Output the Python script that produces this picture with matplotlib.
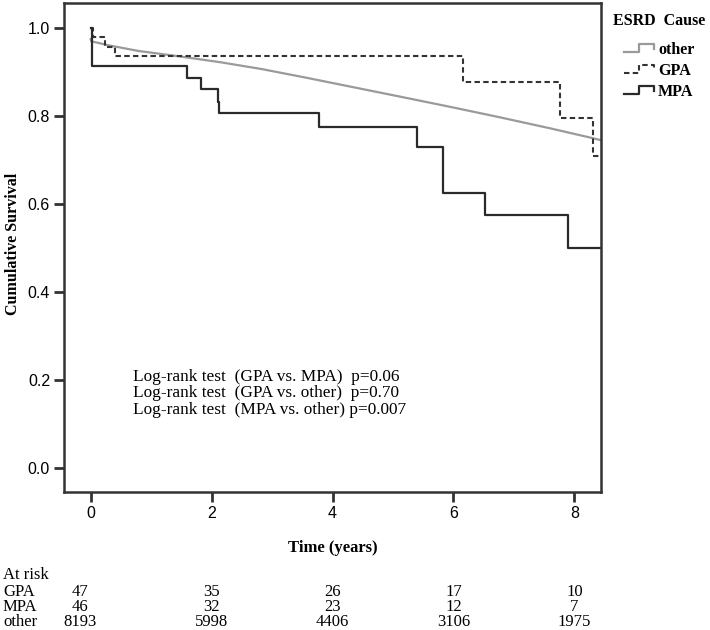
import numpy as np
import matplotlib
matplotlib.use("Agg")
import matplotlib.pyplot as plt
import matplotlib.transforms as mtrans
from matplotlib.lines import Line2D
from matplotlib.legend_handler import HandlerBase

# ---------------- data ----------------
other_t = [0.0, 0.01, 0.29, 0.79, 1.50, 2.16, 2.82, 3.57, 4.29, 5.12, 5.94, 6.77, 7.60, 8.26, 8.44]
other_s = [0.975, 0.970, 0.961, 0.948, 0.935, 0.922, 0.907, 0.887, 0.867, 0.844, 0.821, 0.797, 0.772, 0.751, 0.745]

gpa_t = [0.0, 0.04, 0.23, 0.40, 6.15, 7.76, 8.30, 8.44]
gpa_s = [1.0, 0.979, 0.957, 0.936, 0.877, 0.796, 0.709, 0.709]

mpa_t = [0.0, 0.03, 1.59, 1.83, 2.10, 2.12, 3.77, 5.40, 5.82, 6.53, 7.90, 8.44]
mpa_s = [1.0, 0.913, 0.887, 0.861, 0.832, 0.806, 0.776, 0.730, 0.626, 0.575, 0.500, 0.500]

series_names = ["other", "GPA", "MPA"]

x_ticks = [0, 2, 4, 6, 8]
y_ticks = [0.0, 0.2, 0.4, 0.6, 0.8, 1.0]

risk_times = [0, 2, 4, 6, 8]
risk_groups = ["GPA", "MPA", "other"]
risk_gpa = [47, 35, 26, 17, 10]
risk_mpa = [46, 32, 23, 12, 7]
risk_other = [8193, 5998, 4406, 3106, 1975]

logrank_lines = [
    "Log-rank test  (GPA vs. MPA)  p=0.06",
    "Log-rank test  (GPA vs. other)  p=0.70",
    "Log-rank test  (MPA vs. other) p=0.007",
]

# ---------------- style ----------------
SERIF = ["Liberation Serif", "DejaVu Serif"]
SANS = ["Liberation Sans Narrow", "Liberation Sans", "DejaVu Sans"]
FRAME = "#333333"


class StepHandler(HandlerBase):
    """Legend handle drawn as a small step (SPSS style), indented from the title."""
    def create_artists(self, legend, orig_handle, xdescent, ydescent,
                       width, height, fontsize, trans):
        f = np.array([0.27, 0.63, 0.63, 1.0, 1.0])
        xs = f * width - xdescent
        ys = np.array([0.15, 0.15, 0.9, 0.9, 0.45]) * height - ydescent
        line = Line2D(xs, ys)
        self.update_prop(line, orig_handle, legend)
        line.set_transform(trans)
        return [line]


fig = plt.figure(figsize=(7.1, 6.3), dpi=100)
ax = fig.add_axes([64 / 710, 1 - 492 / 630, (601 - 64) / 710, (492 - 3) / 630])

l_other, = ax.plot(other_t, other_s, color="#9a9a9a", lw=1.6, label=series_names[0])
l_gpa, = ax.step(gpa_t, gpa_s, where="post", color="#333333", lw=1.5,
                 linestyle=(0, (2.6, 1.6)), label=series_names[1])
l_mpa, = ax.step(mpa_t, mpa_s, where="post", color="#2a2a2a", lw=1.6, label=series_names[2])

ax.set_xlim(-0.44, 8.44)
ax.set_ylim(-0.055, 1.057)
ax.set_xticks(x_ticks)
ax.set_yticks(y_ticks)
ax.set_xticklabels([str(t) for t in x_ticks], family=SANS, fontsize=11.5)
ax.set_yticklabels([f"{v:.1f}" for v in y_ticks], family=SANS, fontsize=11.5)
ax.tick_params(direction="out", length=7, width=2, color=FRAME, pad=3)
for sp in ax.spines.values():
    sp.set_linewidth(1.8)
    sp.set_color(FRAME)

ax.set_ylabel("Cumulative Survival", family=SERIF, fontweight="bold", fontsize=11.5)
ax.yaxis.set_label_coords(-0.081, 0.507)
ax.set_xlabel("Time (years)", family=SERIF, fontweight="bold", fontsize=12, labelpad=14)

# log-rank annotation
for i, txt in enumerate(logrank_lines):
    ax.text(0.128, 0.236 - i * 0.034, txt, transform=ax.transAxes,
            family=SERIF, fontsize=12.4, va="center", ha="left")

# legend
leg = ax.legend(handles=[l_other, l_gpa, l_mpa], labels=series_names,
                handler_map={Line2D: StepHandler()},
                loc="upper left", bbox_to_anchor=(610 / 710, 1 - 10 / 630),
                bbox_transform=fig.transFigure, frameon=False,
                title="ESRD  Cause", alignment="left",
                prop={"family": SERIF, "weight": "bold", "size": 11.5},
                title_fontproperties={"family": SERIF, "weight": "bold", "size": 11.5},
                handlelength=2.55, handletextpad=0.25, labelspacing=0.32,
                borderpad=0.2, borderaxespad=0.0)
leg._legend_box.sep = 9

# at-risk table
blend = mtrans.blended_transform_factory(ax.transData, fig.transFigure)
fig.text(3 / 710, 1 - 575 / 630, "At risk", family=SERIF, fontsize=12, va="center", ha="left")
row_y = [592, 607, 622]
rows = [risk_gpa, risk_mpa, risk_other]
for name, vals, yy in zip(risk_groups, rows, row_y):
    fig.text(3 / 710, 1 - yy / 630, name, family=SERIF, fontsize=12, va="center", ha="left")
    for t, v in zip(risk_times, vals):
        xpos = t - 0.17 if t == 0 else t
        fig.text(xpos, 1 - yy / 630, str(v), transform=blend, family=SERIF,
                 fontsize=12, va="center", ha="center")

fig.savefig("out.png", dpi=100)
